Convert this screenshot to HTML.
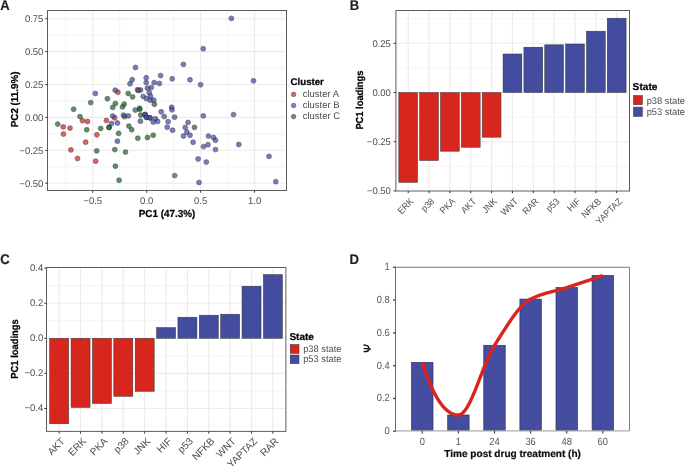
<!DOCTYPE html>
<html><head><meta charset="utf-8"><style>
html,body{margin:0;padding:0;background:#fff;}
body{width:685px;height:469px;overflow:hidden;}
svg{display:block;font-family:"Liberation Sans", sans-serif;will-change:transform;}
</style></head><body>
<svg width="685" height="469" viewBox="0 0 685 469" text-rendering="geometricPrecision">
<rect width="685" height="469" fill="#fff"/>
<line x1="65.77" y1="10.50" x2="65.77" y2="190.50" stroke="#EBEBEB" stroke-width="0.55"/>
<line x1="119.72" y1="10.50" x2="119.72" y2="190.50" stroke="#EBEBEB" stroke-width="0.55"/>
<line x1="173.67" y1="10.50" x2="173.67" y2="190.50" stroke="#EBEBEB" stroke-width="0.55"/>
<line x1="227.62" y1="10.50" x2="227.62" y2="190.50" stroke="#EBEBEB" stroke-width="0.55"/>
<line x1="281.57" y1="10.50" x2="281.57" y2="190.50" stroke="#EBEBEB" stroke-width="0.55"/>
<line x1="47.50" y1="35.15" x2="286.50" y2="35.15" stroke="#EBEBEB" stroke-width="0.55"/>
<line x1="47.50" y1="68.05" x2="286.50" y2="68.05" stroke="#EBEBEB" stroke-width="0.55"/>
<line x1="47.50" y1="100.95" x2="286.50" y2="100.95" stroke="#EBEBEB" stroke-width="0.55"/>
<line x1="47.50" y1="133.85" x2="286.50" y2="133.85" stroke="#EBEBEB" stroke-width="0.55"/>
<line x1="47.50" y1="166.75" x2="286.50" y2="166.75" stroke="#EBEBEB" stroke-width="0.55"/>
<line x1="92.75" y1="10.50" x2="92.75" y2="190.50" stroke="#EBEBEB" stroke-width="1.1"/>
<line x1="146.70" y1="10.50" x2="146.70" y2="190.50" stroke="#EBEBEB" stroke-width="1.1"/>
<line x1="200.65" y1="10.50" x2="200.65" y2="190.50" stroke="#EBEBEB" stroke-width="1.1"/>
<line x1="254.60" y1="10.50" x2="254.60" y2="190.50" stroke="#EBEBEB" stroke-width="1.1"/>
<line x1="47.50" y1="18.70" x2="286.50" y2="18.70" stroke="#EBEBEB" stroke-width="1.1"/>
<line x1="47.50" y1="51.60" x2="286.50" y2="51.60" stroke="#EBEBEB" stroke-width="1.1"/>
<line x1="47.50" y1="84.50" x2="286.50" y2="84.50" stroke="#EBEBEB" stroke-width="1.1"/>
<line x1="47.50" y1="117.40" x2="286.50" y2="117.40" stroke="#EBEBEB" stroke-width="1.1"/>
<line x1="47.50" y1="150.30" x2="286.50" y2="150.30" stroke="#EBEBEB" stroke-width="1.1"/>
<line x1="47.50" y1="183.20" x2="286.50" y2="183.20" stroke="#EBEBEB" stroke-width="1.1"/>
<circle cx="117.9" cy="92.2" r="2.45" fill="#DA2119" stroke="#1a1a1a" stroke-width="0.65" opacity="0.72"/>
<circle cx="137.6" cy="89.8" r="2.45" fill="#DA2119" stroke="#1a1a1a" stroke-width="0.65" opacity="0.72"/>
<circle cx="82.5" cy="120.8" r="2.45" fill="#DA2119" stroke="#1a1a1a" stroke-width="0.65" opacity="0.72"/>
<circle cx="87.5" cy="121.5" r="2.45" fill="#DA2119" stroke="#1a1a1a" stroke-width="0.65" opacity="0.72"/>
<circle cx="106.4" cy="120.5" r="2.45" fill="#DA2119" stroke="#1a1a1a" stroke-width="0.65" opacity="0.72"/>
<circle cx="114.7" cy="117.8" r="2.45" fill="#DA2119" stroke="#1a1a1a" stroke-width="0.65" opacity="0.72"/>
<circle cx="63.2" cy="126.9" r="2.45" fill="#DA2119" stroke="#1a1a1a" stroke-width="0.65" opacity="0.72"/>
<circle cx="70.0" cy="128.1" r="2.45" fill="#DA2119" stroke="#1a1a1a" stroke-width="0.65" opacity="0.72"/>
<circle cx="63.4" cy="134.1" r="2.45" fill="#DA2119" stroke="#1a1a1a" stroke-width="0.65" opacity="0.72"/>
<circle cx="96.9" cy="134.8" r="2.45" fill="#DA2119" stroke="#1a1a1a" stroke-width="0.65" opacity="0.72"/>
<circle cx="85.6" cy="142.2" r="2.45" fill="#DA2119" stroke="#1a1a1a" stroke-width="0.65" opacity="0.72"/>
<circle cx="70.9" cy="149.9" r="2.45" fill="#DA2119" stroke="#1a1a1a" stroke-width="0.65" opacity="0.72"/>
<circle cx="77.5" cy="158.5" r="2.45" fill="#DA2119" stroke="#1a1a1a" stroke-width="0.65" opacity="0.72"/>
<circle cx="95.7" cy="161.2" r="2.45" fill="#DA2119" stroke="#1a1a1a" stroke-width="0.65" opacity="0.72"/>
<circle cx="128.2" cy="93.5" r="2.45" fill="#1A6A2A" stroke="#1a1a1a" stroke-width="0.65" opacity="0.72"/>
<circle cx="107.4" cy="98.7" r="2.45" fill="#1A6A2A" stroke="#1a1a1a" stroke-width="0.65" opacity="0.72"/>
<circle cx="90.7" cy="102.6" r="2.45" fill="#1A6A2A" stroke="#1a1a1a" stroke-width="0.65" opacity="0.72"/>
<circle cx="115.4" cy="103.5" r="2.45" fill="#1A6A2A" stroke="#1a1a1a" stroke-width="0.65" opacity="0.72"/>
<circle cx="124.2" cy="104.1" r="2.45" fill="#1A6A2A" stroke="#1a1a1a" stroke-width="0.65" opacity="0.72"/>
<circle cx="122.5" cy="106.9" r="2.45" fill="#1A6A2A" stroke="#1a1a1a" stroke-width="0.65" opacity="0.72"/>
<circle cx="112.7" cy="107.4" r="2.45" fill="#1A6A2A" stroke="#1a1a1a" stroke-width="0.65" opacity="0.72"/>
<circle cx="73.6" cy="109.3" r="2.45" fill="#1A6A2A" stroke="#1a1a1a" stroke-width="0.65" opacity="0.72"/>
<circle cx="80.0" cy="116.6" r="2.45" fill="#1A6A2A" stroke="#1a1a1a" stroke-width="0.65" opacity="0.72"/>
<circle cx="124.5" cy="116.6" r="2.45" fill="#1A6A2A" stroke="#1a1a1a" stroke-width="0.65" opacity="0.72"/>
<circle cx="109.0" cy="127.3" r="2.45" fill="#1A6A2A" stroke="#1a1a1a" stroke-width="0.65" opacity="0.72"/>
<circle cx="57.7" cy="124.1" r="2.45" fill="#1A6A2A" stroke="#1a1a1a" stroke-width="0.65" opacity="0.72"/>
<circle cx="86.7" cy="129.8" r="2.45" fill="#1A6A2A" stroke="#1a1a1a" stroke-width="0.65" opacity="0.72"/>
<circle cx="100.7" cy="128.5" r="2.45" fill="#1A6A2A" stroke="#1a1a1a" stroke-width="0.65" opacity="0.72"/>
<circle cx="118.6" cy="133.4" r="2.45" fill="#1A6A2A" stroke="#1a1a1a" stroke-width="0.65" opacity="0.72"/>
<circle cx="128.9" cy="126.1" r="2.45" fill="#1A6A2A" stroke="#1a1a1a" stroke-width="0.65" opacity="0.72"/>
<circle cx="131.7" cy="129.7" r="2.45" fill="#1A6A2A" stroke="#1a1a1a" stroke-width="0.65" opacity="0.72"/>
<circle cx="132.6" cy="96.9" r="2.45" fill="#1A6A2A" stroke="#1a1a1a" stroke-width="0.65" opacity="0.72"/>
<circle cx="154.4" cy="104.3" r="2.45" fill="#1A6A2A" stroke="#1a1a1a" stroke-width="0.65" opacity="0.72"/>
<circle cx="139.6" cy="108.2" r="2.45" fill="#1A6A2A" stroke="#1a1a1a" stroke-width="0.65" opacity="0.72"/>
<circle cx="139.7" cy="109.6" r="2.45" fill="#1A6A2A" stroke="#1a1a1a" stroke-width="0.65" opacity="0.72"/>
<circle cx="140.8" cy="115.1" r="2.45" fill="#1A6A2A" stroke="#1a1a1a" stroke-width="0.65" opacity="0.72"/>
<circle cx="153.2" cy="135.3" r="2.45" fill="#1A6A2A" stroke="#1a1a1a" stroke-width="0.65" opacity="0.72"/>
<circle cx="147.5" cy="137.5" r="2.45" fill="#1A6A2A" stroke="#1a1a1a" stroke-width="0.65" opacity="0.72"/>
<circle cx="137.8" cy="138.2" r="2.45" fill="#1A6A2A" stroke="#1a1a1a" stroke-width="0.65" opacity="0.72"/>
<circle cx="194.5" cy="127.4" r="2.45" fill="#1A6A2A" stroke="#1a1a1a" stroke-width="0.65" opacity="0.72"/>
<circle cx="96.7" cy="150.9" r="2.45" fill="#1A6A2A" stroke="#1a1a1a" stroke-width="0.65" opacity="0.72"/>
<circle cx="114.8" cy="149.6" r="2.45" fill="#1A6A2A" stroke="#1a1a1a" stroke-width="0.65" opacity="0.72"/>
<circle cx="125.5" cy="152.1" r="2.45" fill="#1A6A2A" stroke="#1a1a1a" stroke-width="0.65" opacity="0.72"/>
<circle cx="115.4" cy="166.2" r="2.45" fill="#1A6A2A" stroke="#1a1a1a" stroke-width="0.65" opacity="0.72"/>
<circle cx="119.1" cy="180.2" r="2.45" fill="#1A6A2A" stroke="#1a1a1a" stroke-width="0.65" opacity="0.72"/>
<circle cx="109.2" cy="127.5" r="2.45" fill="#1A6A2A" stroke="#1a1a1a" stroke-width="0.65" opacity="0.72"/>
<circle cx="231.4" cy="18.4" r="2.45" fill="#424CB0" stroke="#1a1a1a" stroke-width="0.65" opacity="0.72"/>
<circle cx="203.2" cy="48.8" r="2.45" fill="#424CB0" stroke="#1a1a1a" stroke-width="0.65" opacity="0.72"/>
<circle cx="183.4" cy="64.4" r="2.45" fill="#424CB0" stroke="#1a1a1a" stroke-width="0.65" opacity="0.72"/>
<circle cx="135.5" cy="67.5" r="2.45" fill="#424CB0" stroke="#1a1a1a" stroke-width="0.65" opacity="0.72"/>
<circle cx="160.6" cy="75.6" r="2.45" fill="#424CB0" stroke="#1a1a1a" stroke-width="0.65" opacity="0.72"/>
<circle cx="172.2" cy="78.8" r="2.45" fill="#424CB0" stroke="#1a1a1a" stroke-width="0.65" opacity="0.72"/>
<circle cx="190.0" cy="79.8" r="2.45" fill="#424CB0" stroke="#1a1a1a" stroke-width="0.65" opacity="0.72"/>
<circle cx="253.5" cy="80.8" r="2.45" fill="#424CB0" stroke="#1a1a1a" stroke-width="0.65" opacity="0.72"/>
<circle cx="200.6" cy="84.7" r="2.45" fill="#424CB0" stroke="#1a1a1a" stroke-width="0.65" opacity="0.72"/>
<circle cx="132.2" cy="79.7" r="2.45" fill="#424CB0" stroke="#1a1a1a" stroke-width="0.65" opacity="0.72"/>
<circle cx="130.0" cy="83.8" r="2.45" fill="#424CB0" stroke="#1a1a1a" stroke-width="0.65" opacity="0.72"/>
<circle cx="146.2" cy="77.8" r="2.45" fill="#424CB0" stroke="#1a1a1a" stroke-width="0.65" opacity="0.72"/>
<circle cx="146.2" cy="82.6" r="2.45" fill="#424CB0" stroke="#1a1a1a" stroke-width="0.65" opacity="0.72"/>
<circle cx="154.2" cy="82.6" r="2.45" fill="#424CB0" stroke="#1a1a1a" stroke-width="0.65" opacity="0.72"/>
<circle cx="159.4" cy="83.5" r="2.45" fill="#424CB0" stroke="#1a1a1a" stroke-width="0.65" opacity="0.72"/>
<circle cx="151.3" cy="87.6" r="2.45" fill="#424CB0" stroke="#1a1a1a" stroke-width="0.65" opacity="0.72"/>
<circle cx="147.4" cy="88.2" r="2.45" fill="#424CB0" stroke="#1a1a1a" stroke-width="0.65" opacity="0.72"/>
<circle cx="95.4" cy="93.5" r="2.45" fill="#424CB0" stroke="#1a1a1a" stroke-width="0.65" opacity="0.72"/>
<circle cx="115.2" cy="90.2" r="2.45" fill="#424CB0" stroke="#1a1a1a" stroke-width="0.65" opacity="0.72"/>
<circle cx="140.6" cy="90.0" r="2.45" fill="#424CB0" stroke="#1a1a1a" stroke-width="0.65" opacity="0.72"/>
<circle cx="149.3" cy="92.7" r="2.45" fill="#424CB0" stroke="#1a1a1a" stroke-width="0.65" opacity="0.72"/>
<circle cx="143.2" cy="96.4" r="2.45" fill="#424CB0" stroke="#1a1a1a" stroke-width="0.65" opacity="0.72"/>
<circle cx="150.5" cy="96.1" r="2.45" fill="#424CB0" stroke="#1a1a1a" stroke-width="0.65" opacity="0.72"/>
<circle cx="146.4" cy="98.6" r="2.45" fill="#424CB0" stroke="#1a1a1a" stroke-width="0.65" opacity="0.72"/>
<circle cx="150.3" cy="100.3" r="2.45" fill="#424CB0" stroke="#1a1a1a" stroke-width="0.65" opacity="0.72"/>
<circle cx="153.8" cy="100.1" r="2.45" fill="#424CB0" stroke="#1a1a1a" stroke-width="0.65" opacity="0.72"/>
<circle cx="135.2" cy="110.1" r="2.45" fill="#424CB0" stroke="#1a1a1a" stroke-width="0.65" opacity="0.72"/>
<circle cx="171.7" cy="107.3" r="2.45" fill="#424CB0" stroke="#1a1a1a" stroke-width="0.65" opacity="0.72"/>
<circle cx="172.0" cy="109.8" r="2.45" fill="#424CB0" stroke="#1a1a1a" stroke-width="0.65" opacity="0.72"/>
<circle cx="161.2" cy="111.8" r="2.45" fill="#424CB0" stroke="#1a1a1a" stroke-width="0.65" opacity="0.72"/>
<circle cx="164.2" cy="116.6" r="2.45" fill="#424CB0" stroke="#1a1a1a" stroke-width="0.65" opacity="0.72"/>
<circle cx="174.6" cy="117.2" r="2.45" fill="#424CB0" stroke="#1a1a1a" stroke-width="0.65" opacity="0.72"/>
<circle cx="203.3" cy="115.9" r="2.45" fill="#424CB0" stroke="#1a1a1a" stroke-width="0.65" opacity="0.72"/>
<circle cx="233.5" cy="114.6" r="2.45" fill="#424CB0" stroke="#1a1a1a" stroke-width="0.65" opacity="0.72"/>
<circle cx="145.0" cy="114.5" r="2.45" fill="#424CB0" stroke="#1a1a1a" stroke-width="0.65" opacity="0.72"/>
<circle cx="146.3" cy="117.2" r="2.45" fill="#424CB0" stroke="#1a1a1a" stroke-width="0.65" opacity="0.72"/>
<circle cx="149.9" cy="117.8" r="2.45" fill="#424CB0" stroke="#1a1a1a" stroke-width="0.65" opacity="0.72"/>
<circle cx="155.4" cy="118.8" r="2.45" fill="#424CB0" stroke="#1a1a1a" stroke-width="0.65" opacity="0.72"/>
<circle cx="153.2" cy="122.1" r="2.45" fill="#424CB0" stroke="#1a1a1a" stroke-width="0.65" opacity="0.72"/>
<circle cx="157.6" cy="121.5" r="2.45" fill="#424CB0" stroke="#1a1a1a" stroke-width="0.65" opacity="0.72"/>
<circle cx="128.4" cy="115.9" r="2.45" fill="#424CB0" stroke="#1a1a1a" stroke-width="0.65" opacity="0.72"/>
<circle cx="123.5" cy="115.1" r="2.45" fill="#424CB0" stroke="#1a1a1a" stroke-width="0.65" opacity="0.72"/>
<circle cx="112.7" cy="116.0" r="2.45" fill="#424CB0" stroke="#1a1a1a" stroke-width="0.65" opacity="0.72"/>
<circle cx="111.5" cy="123.5" r="2.45" fill="#424CB0" stroke="#1a1a1a" stroke-width="0.65" opacity="0.72"/>
<circle cx="117.4" cy="123.0" r="2.45" fill="#424CB0" stroke="#1a1a1a" stroke-width="0.65" opacity="0.72"/>
<circle cx="140.4" cy="121.2" r="2.45" fill="#424CB0" stroke="#1a1a1a" stroke-width="0.65" opacity="0.72"/>
<circle cx="168.1" cy="121.7" r="2.45" fill="#424CB0" stroke="#1a1a1a" stroke-width="0.65" opacity="0.72"/>
<circle cx="188.1" cy="122.4" r="2.45" fill="#424CB0" stroke="#1a1a1a" stroke-width="0.65" opacity="0.72"/>
<circle cx="167.2" cy="127.3" r="2.45" fill="#424CB0" stroke="#1a1a1a" stroke-width="0.65" opacity="0.72"/>
<circle cx="172.6" cy="130.2" r="2.45" fill="#424CB0" stroke="#1a1a1a" stroke-width="0.65" opacity="0.72"/>
<circle cx="185.3" cy="127.5" r="2.45" fill="#424CB0" stroke="#1a1a1a" stroke-width="0.65" opacity="0.72"/>
<circle cx="186.9" cy="132.1" r="2.45" fill="#424CB0" stroke="#1a1a1a" stroke-width="0.65" opacity="0.72"/>
<circle cx="183.5" cy="136.0" r="2.45" fill="#424CB0" stroke="#1a1a1a" stroke-width="0.65" opacity="0.72"/>
<circle cx="190.0" cy="135.3" r="2.45" fill="#424CB0" stroke="#1a1a1a" stroke-width="0.65" opacity="0.72"/>
<circle cx="193.1" cy="142.3" r="2.45" fill="#424CB0" stroke="#1a1a1a" stroke-width="0.65" opacity="0.72"/>
<circle cx="208.4" cy="136.1" r="2.45" fill="#424CB0" stroke="#1a1a1a" stroke-width="0.65" opacity="0.72"/>
<circle cx="213.5" cy="137.5" r="2.45" fill="#424CB0" stroke="#1a1a1a" stroke-width="0.65" opacity="0.72"/>
<circle cx="215.5" cy="140.3" r="2.45" fill="#424CB0" stroke="#1a1a1a" stroke-width="0.65" opacity="0.72"/>
<circle cx="203.5" cy="146.6" r="2.45" fill="#424CB0" stroke="#1a1a1a" stroke-width="0.65" opacity="0.72"/>
<circle cx="208.0" cy="144.7" r="2.45" fill="#424CB0" stroke="#1a1a1a" stroke-width="0.65" opacity="0.72"/>
<circle cx="215.5" cy="149.6" r="2.45" fill="#424CB0" stroke="#1a1a1a" stroke-width="0.65" opacity="0.72"/>
<circle cx="238.8" cy="144.5" r="2.45" fill="#424CB0" stroke="#1a1a1a" stroke-width="0.65" opacity="0.72"/>
<circle cx="269.0" cy="156.4" r="2.45" fill="#424CB0" stroke="#1a1a1a" stroke-width="0.65" opacity="0.72"/>
<circle cx="198.1" cy="159.0" r="2.45" fill="#424CB0" stroke="#1a1a1a" stroke-width="0.65" opacity="0.72"/>
<circle cx="206.3" cy="162.1" r="2.45" fill="#424CB0" stroke="#1a1a1a" stroke-width="0.65" opacity="0.72"/>
<circle cx="174.7" cy="175.6" r="2.45" fill="#424CB0" stroke="#1a1a1a" stroke-width="0.65" opacity="0.72"/>
<circle cx="199.0" cy="182.5" r="2.45" fill="#424CB0" stroke="#1a1a1a" stroke-width="0.65" opacity="0.72"/>
<circle cx="275.8" cy="181.7" r="2.45" fill="#424CB0" stroke="#1a1a1a" stroke-width="0.65" opacity="0.72"/>
<circle cx="117.4" cy="141.2" r="2.45" fill="#424CB0" stroke="#1a1a1a" stroke-width="0.65" opacity="0.72"/>
<circle cx="138.4" cy="90.6" r="2.45" fill="#424CB0" stroke="#1a1a1a" stroke-width="0.65" opacity="0.72"/>
<circle cx="145.2" cy="114.6" r="2.45" fill="#424CB0" stroke="#1a1a1a" stroke-width="0.65" opacity="0.72"/>
<circle cx="146.5" cy="117.3" r="2.45" fill="#424CB0" stroke="#1a1a1a" stroke-width="0.65" opacity="0.72"/>
<circle cx="150.0" cy="117.9" r="2.45" fill="#424CB0" stroke="#1a1a1a" stroke-width="0.65" opacity="0.72"/>
<rect x="47.50" y="10.50" width="239.00" height="180.00" fill="none" stroke="#5E5E5E" stroke-width="1.0"/>
<line x1="45.30" y1="18.70" x2="47.50" y2="18.70" stroke="#333" stroke-width="1.0"/>
<text x="43.40" y="22.00" font-size="9.7" fill="#4D4D4D" text-anchor="end" font-weight="normal" textLength="18.50" lengthAdjust="spacingAndGlyphs">0.75</text>
<line x1="45.30" y1="51.60" x2="47.50" y2="51.60" stroke="#333" stroke-width="1.0"/>
<text x="43.40" y="54.90" font-size="9.7" fill="#4D4D4D" text-anchor="end" font-weight="normal" textLength="18.50" lengthAdjust="spacingAndGlyphs">0.50</text>
<line x1="45.30" y1="84.50" x2="47.50" y2="84.50" stroke="#333" stroke-width="1.0"/>
<text x="43.40" y="87.80" font-size="9.7" fill="#4D4D4D" text-anchor="end" font-weight="normal" textLength="18.50" lengthAdjust="spacingAndGlyphs">0.25</text>
<line x1="45.30" y1="117.40" x2="47.50" y2="117.40" stroke="#333" stroke-width="1.0"/>
<text x="43.40" y="120.70" font-size="9.7" fill="#4D4D4D" text-anchor="end" font-weight="normal" textLength="18.50" lengthAdjust="spacingAndGlyphs">0.00</text>
<line x1="45.30" y1="150.30" x2="47.50" y2="150.30" stroke="#333" stroke-width="1.0"/>
<text x="43.40" y="153.60" font-size="9.7" fill="#4D4D4D" text-anchor="end" font-weight="normal" textLength="24.05" lengthAdjust="spacingAndGlyphs">−0.25</text>
<line x1="45.30" y1="183.20" x2="47.50" y2="183.20" stroke="#333" stroke-width="1.0"/>
<text x="43.40" y="186.50" font-size="9.7" fill="#4D4D4D" text-anchor="end" font-weight="normal" textLength="24.05" lengthAdjust="spacingAndGlyphs">−0.50</text>
<line x1="92.75" y1="190.50" x2="92.75" y2="192.70" stroke="#333" stroke-width="1.0"/>
<text x="92.75" y="204.20" font-size="9.7" fill="#4D4D4D" text-anchor="middle" font-weight="normal" textLength="18.77" lengthAdjust="spacingAndGlyphs">−0.5</text>
<line x1="146.70" y1="190.50" x2="146.70" y2="192.70" stroke="#333" stroke-width="1.0"/>
<text x="146.70" y="204.20" font-size="9.7" fill="#4D4D4D" text-anchor="middle" font-weight="normal" textLength="13.21" lengthAdjust="spacingAndGlyphs">0.0</text>
<line x1="200.65" y1="190.50" x2="200.65" y2="192.70" stroke="#333" stroke-width="1.0"/>
<text x="200.65" y="204.20" font-size="9.7" fill="#4D4D4D" text-anchor="middle" font-weight="normal" textLength="13.21" lengthAdjust="spacingAndGlyphs">0.5</text>
<line x1="254.60" y1="190.50" x2="254.60" y2="192.70" stroke="#333" stroke-width="1.0"/>
<text x="254.60" y="204.20" font-size="9.7" fill="#4D4D4D" text-anchor="middle" font-weight="normal" textLength="13.21" lengthAdjust="spacingAndGlyphs">1.0</text>
<text x="167.00" y="216.90" font-size="10.2" fill="#000" text-anchor="middle" font-weight="bold" textLength="56.50" lengthAdjust="spacingAndGlyphs" stroke="#000" stroke-width="0.22">PC1 (47.3%)</text>
<text transform="translate(18.20,99.40) rotate(-90)" font-size="10.1" fill="#000" text-anchor="middle" font-weight="bold" textLength="55.80" lengthAdjust="spacingAndGlyphs" stroke="#000" stroke-width="0.22">PC2 (11.9%)</text>
<text x="290.60" y="84.80" font-size="9.7" fill="#000" text-anchor="start" font-weight="bold" textLength="33.30" lengthAdjust="spacingAndGlyphs" stroke="#000" stroke-width="0.22">Cluster</text>
<circle cx="293.6" cy="94.4" r="2.3" fill="#DA2119" stroke="#000" stroke-width="0.6" opacity="0.68"/>
<text x="302.70" y="96.90" font-size="9.6" fill="#4D4D4D" text-anchor="start" font-weight="normal" textLength="36.26" lengthAdjust="spacingAndGlyphs">cluster A</text>
<circle cx="293.6" cy="105.5" r="2.3" fill="#424CB0" stroke="#000" stroke-width="0.6" opacity="0.68"/>
<text x="302.70" y="108.00" font-size="9.6" fill="#4D4D4D" text-anchor="start" font-weight="normal" textLength="36.79" lengthAdjust="spacingAndGlyphs">cluster B</text>
<circle cx="293.6" cy="116.6" r="2.3" fill="#1A6A2A" stroke="#000" stroke-width="0.6" opacity="0.68"/>
<text x="302.70" y="119.10" font-size="9.6" fill="#4D4D4D" text-anchor="start" font-weight="normal" textLength="37.31" lengthAdjust="spacingAndGlyphs">cluster C</text>
<line x1="395.90" y1="18.70" x2="629.50" y2="18.70" stroke="#EBEBEB" stroke-width="0.55"/>
<line x1="395.90" y1="67.90" x2="629.50" y2="67.90" stroke="#EBEBEB" stroke-width="0.55"/>
<line x1="395.90" y1="117.10" x2="629.50" y2="117.10" stroke="#EBEBEB" stroke-width="0.55"/>
<line x1="395.90" y1="166.30" x2="629.50" y2="166.30" stroke="#EBEBEB" stroke-width="0.55"/>
<line x1="395.90" y1="43.30" x2="629.50" y2="43.30" stroke="#EBEBEB" stroke-width="1.1"/>
<line x1="395.90" y1="92.50" x2="629.50" y2="92.50" stroke="#EBEBEB" stroke-width="1.1"/>
<line x1="395.90" y1="141.70" x2="629.50" y2="141.70" stroke="#EBEBEB" stroke-width="1.1"/>
<line x1="408.20" y1="10.50" x2="408.20" y2="191.00" stroke="#EBEBEB" stroke-width="1.1"/>
<line x1="429.05" y1="10.50" x2="429.05" y2="191.00" stroke="#EBEBEB" stroke-width="1.1"/>
<line x1="449.90" y1="10.50" x2="449.90" y2="191.00" stroke="#EBEBEB" stroke-width="1.1"/>
<line x1="470.75" y1="10.50" x2="470.75" y2="191.00" stroke="#EBEBEB" stroke-width="1.1"/>
<line x1="491.60" y1="10.50" x2="491.60" y2="191.00" stroke="#EBEBEB" stroke-width="1.1"/>
<line x1="512.45" y1="10.50" x2="512.45" y2="191.00" stroke="#EBEBEB" stroke-width="1.1"/>
<line x1="533.30" y1="10.50" x2="533.30" y2="191.00" stroke="#EBEBEB" stroke-width="1.1"/>
<line x1="554.15" y1="10.50" x2="554.15" y2="191.00" stroke="#EBEBEB" stroke-width="1.1"/>
<line x1="575.00" y1="10.50" x2="575.00" y2="191.00" stroke="#EBEBEB" stroke-width="1.1"/>
<line x1="595.85" y1="10.50" x2="595.85" y2="191.00" stroke="#EBEBEB" stroke-width="1.1"/>
<line x1="616.70" y1="10.50" x2="616.70" y2="191.00" stroke="#EBEBEB" stroke-width="1.1"/>
<rect x="398.80" y="92.50" width="18.80" height="89.90" fill="#D7261E" stroke="#333" stroke-width="0.5"/>
<rect x="419.65" y="92.50" width="18.80" height="68.00" fill="#D7261E" stroke="#333" stroke-width="0.5"/>
<rect x="440.50" y="92.50" width="18.80" height="58.70" fill="#D7261E" stroke="#333" stroke-width="0.5"/>
<rect x="461.35" y="92.50" width="18.80" height="54.80" fill="#D7261E" stroke="#333" stroke-width="0.5"/>
<rect x="482.20" y="92.50" width="18.80" height="44.70" fill="#D7261E" stroke="#333" stroke-width="0.5"/>
<rect x="503.05" y="54.00" width="18.80" height="38.50" fill="#434C9E" stroke="#333" stroke-width="0.5"/>
<rect x="523.90" y="47.20" width="18.80" height="45.30" fill="#434C9E" stroke="#333" stroke-width="0.5"/>
<rect x="544.75" y="44.80" width="18.80" height="47.70" fill="#434C9E" stroke="#333" stroke-width="0.5"/>
<rect x="565.60" y="44.00" width="18.80" height="48.50" fill="#434C9E" stroke="#333" stroke-width="0.5"/>
<rect x="586.45" y="31.20" width="18.80" height="61.30" fill="#434C9E" stroke="#333" stroke-width="0.5"/>
<rect x="607.30" y="18.20" width="18.80" height="74.30" fill="#434C9E" stroke="#333" stroke-width="0.5"/>
<rect x="395.90" y="10.50" width="233.60" height="180.50" fill="none" stroke="#5E5E5E" stroke-width="1.0"/>
<line x1="393.70" y1="43.30" x2="395.90" y2="43.30" stroke="#333" stroke-width="1.0"/>
<text x="390.90" y="46.60" font-size="9.7" fill="#4D4D4D" text-anchor="end" font-weight="normal" textLength="18.50" lengthAdjust="spacingAndGlyphs">0.25</text>
<line x1="393.70" y1="92.50" x2="395.90" y2="92.50" stroke="#333" stroke-width="1.0"/>
<text x="390.90" y="95.80" font-size="9.7" fill="#4D4D4D" text-anchor="end" font-weight="normal" textLength="18.50" lengthAdjust="spacingAndGlyphs">0.00</text>
<line x1="393.70" y1="141.70" x2="395.90" y2="141.70" stroke="#333" stroke-width="1.0"/>
<text x="390.90" y="145.00" font-size="9.7" fill="#4D4D4D" text-anchor="end" font-weight="normal" textLength="24.05" lengthAdjust="spacingAndGlyphs">−0.25</text>
<line x1="393.70" y1="190.90" x2="395.90" y2="190.90" stroke="#333" stroke-width="1.0"/>
<text x="390.90" y="194.20" font-size="9.7" fill="#4D4D4D" text-anchor="end" font-weight="normal" textLength="24.05" lengthAdjust="spacingAndGlyphs">−0.50</text>
<line x1="408.20" y1="191.00" x2="408.20" y2="193.20" stroke="#333" stroke-width="1.0"/>
<text transform="translate(414.20,202.00) rotate(-45)" font-size="9.4" fill="#4D4D4D" text-anchor="end" font-weight="normal" textLength="17.98" lengthAdjust="spacingAndGlyphs">ERK</text>
<line x1="429.05" y1="191.00" x2="429.05" y2="193.20" stroke="#333" stroke-width="1.0"/>
<text transform="translate(435.05,202.00) rotate(-45)" font-size="9.4" fill="#4D4D4D" text-anchor="end" font-weight="normal" textLength="14.59" lengthAdjust="spacingAndGlyphs">p38</text>
<line x1="449.90" y1="191.00" x2="449.90" y2="193.20" stroke="#333" stroke-width="1.0"/>
<text transform="translate(455.90,202.00) rotate(-45)" font-size="9.4" fill="#4D4D4D" text-anchor="end" font-weight="normal" textLength="17.49" lengthAdjust="spacingAndGlyphs">PKA</text>
<line x1="470.75" y1="191.00" x2="470.75" y2="193.20" stroke="#333" stroke-width="1.0"/>
<text transform="translate(476.75,202.00) rotate(-45)" font-size="9.4" fill="#4D4D4D" text-anchor="end" font-weight="normal" textLength="17.00" lengthAdjust="spacingAndGlyphs">AKT</text>
<line x1="491.60" y1="191.00" x2="491.60" y2="193.20" stroke="#333" stroke-width="1.0"/>
<text transform="translate(497.60,202.00) rotate(-45)" font-size="9.4" fill="#4D4D4D" text-anchor="end" font-weight="normal" textLength="16.52" lengthAdjust="spacingAndGlyphs">JNK</text>
<line x1="512.45" y1="191.00" x2="512.45" y2="193.20" stroke="#333" stroke-width="1.0"/>
<text transform="translate(518.45,202.00) rotate(-45)" font-size="9.4" fill="#4D4D4D" text-anchor="end" font-weight="normal" textLength="19.90" lengthAdjust="spacingAndGlyphs">WNT</text>
<line x1="533.30" y1="191.00" x2="533.30" y2="193.20" stroke="#333" stroke-width="1.0"/>
<text transform="translate(539.30,202.00) rotate(-45)" font-size="9.4" fill="#4D4D4D" text-anchor="end" font-weight="normal" textLength="18.46" lengthAdjust="spacingAndGlyphs">RAR</text>
<line x1="554.15" y1="191.00" x2="554.15" y2="193.20" stroke="#333" stroke-width="1.0"/>
<text transform="translate(560.15,202.00) rotate(-45)" font-size="9.4" fill="#4D4D4D" text-anchor="end" font-weight="normal" textLength="14.59" lengthAdjust="spacingAndGlyphs">p53</text>
<line x1="575.00" y1="191.00" x2="575.00" y2="193.20" stroke="#333" stroke-width="1.0"/>
<text transform="translate(581.00,202.00) rotate(-45)" font-size="9.4" fill="#4D4D4D" text-anchor="end" font-weight="normal" textLength="14.08" lengthAdjust="spacingAndGlyphs">HIF</text>
<line x1="595.85" y1="191.00" x2="595.85" y2="193.20" stroke="#333" stroke-width="1.0"/>
<text transform="translate(601.85,202.00) rotate(-45)" font-size="9.4" fill="#4D4D4D" text-anchor="end" font-weight="normal" textLength="23.32" lengthAdjust="spacingAndGlyphs">NFKB</text>
<line x1="616.70" y1="191.00" x2="616.70" y2="193.20" stroke="#333" stroke-width="1.0"/>
<text transform="translate(622.70,202.00) rotate(-45)" font-size="9.4" fill="#4D4D4D" text-anchor="end" font-weight="normal" textLength="32.71" lengthAdjust="spacingAndGlyphs">YAPTAZ</text>
<text transform="translate(363.20,100.10) rotate(-90)" font-size="10.2" fill="#000" text-anchor="middle" font-weight="bold" textLength="59.00" lengthAdjust="spacingAndGlyphs" stroke="#000" stroke-width="0.22">PC1 loadings</text>
<text x="632.60" y="90.10" font-size="10" fill="#000" text-anchor="start" font-weight="bold" textLength="24.90" lengthAdjust="spacingAndGlyphs" stroke="#000" stroke-width="0.22">State</text>
<rect x="633.40" y="95.50" width="9.00" height="9.20" fill="#D7261E" stroke="#333" stroke-width="0.5"/>
<rect x="633.40" y="107.10" width="9.00" height="9.40" fill="#434C9E" stroke="#333" stroke-width="0.5"/>
<text x="646.70" y="103.80" font-size="9.6" fill="#4D4D4D" text-anchor="start" font-weight="normal" textLength="38.31" lengthAdjust="spacingAndGlyphs">p38 state</text>
<text x="646.70" y="114.70" font-size="9.6" fill="#4D4D4D" text-anchor="start" font-weight="normal" textLength="38.31" lengthAdjust="spacingAndGlyphs">p53 state</text>
<line x1="46.50" y1="285.65" x2="285.90" y2="285.65" stroke="#EBEBEB" stroke-width="0.55"/>
<line x1="46.50" y1="320.75" x2="285.90" y2="320.75" stroke="#EBEBEB" stroke-width="0.55"/>
<line x1="46.50" y1="355.85" x2="285.90" y2="355.85" stroke="#EBEBEB" stroke-width="0.55"/>
<line x1="46.50" y1="390.95" x2="285.90" y2="390.95" stroke="#EBEBEB" stroke-width="0.55"/>
<line x1="46.50" y1="426.05" x2="285.90" y2="426.05" stroke="#EBEBEB" stroke-width="0.55"/>
<line x1="46.50" y1="303.20" x2="285.90" y2="303.20" stroke="#EBEBEB" stroke-width="1.1"/>
<line x1="46.50" y1="338.30" x2="285.90" y2="338.30" stroke="#EBEBEB" stroke-width="1.1"/>
<line x1="46.50" y1="373.40" x2="285.90" y2="373.40" stroke="#EBEBEB" stroke-width="1.1"/>
<line x1="46.50" y1="408.50" x2="285.90" y2="408.50" stroke="#EBEBEB" stroke-width="1.1"/>
<line x1="59.20" y1="267.50" x2="59.20" y2="431.40" stroke="#EBEBEB" stroke-width="1.1"/>
<line x1="80.57" y1="267.50" x2="80.57" y2="431.40" stroke="#EBEBEB" stroke-width="1.1"/>
<line x1="101.94" y1="267.50" x2="101.94" y2="431.40" stroke="#EBEBEB" stroke-width="1.1"/>
<line x1="123.31" y1="267.50" x2="123.31" y2="431.40" stroke="#EBEBEB" stroke-width="1.1"/>
<line x1="144.68" y1="267.50" x2="144.68" y2="431.40" stroke="#EBEBEB" stroke-width="1.1"/>
<line x1="166.05" y1="267.50" x2="166.05" y2="431.40" stroke="#EBEBEB" stroke-width="1.1"/>
<line x1="187.42" y1="267.50" x2="187.42" y2="431.40" stroke="#EBEBEB" stroke-width="1.1"/>
<line x1="208.79" y1="267.50" x2="208.79" y2="431.40" stroke="#EBEBEB" stroke-width="1.1"/>
<line x1="230.16" y1="267.50" x2="230.16" y2="431.40" stroke="#EBEBEB" stroke-width="1.1"/>
<line x1="251.53" y1="267.50" x2="251.53" y2="431.40" stroke="#EBEBEB" stroke-width="1.1"/>
<line x1="272.90" y1="267.50" x2="272.90" y2="431.40" stroke="#EBEBEB" stroke-width="1.1"/>
<rect x="49.70" y="338.30" width="19.00" height="85.50" fill="#D7261E" stroke="#333" stroke-width="0.5"/>
<rect x="71.07" y="338.30" width="19.00" height="69.10" fill="#D7261E" stroke="#333" stroke-width="0.5"/>
<rect x="92.44" y="338.30" width="19.00" height="65.20" fill="#D7261E" stroke="#333" stroke-width="0.5"/>
<rect x="113.81" y="338.30" width="19.00" height="58.00" fill="#D7261E" stroke="#333" stroke-width="0.5"/>
<rect x="135.18" y="338.30" width="19.00" height="53.00" fill="#D7261E" stroke="#333" stroke-width="0.5"/>
<rect x="156.55" y="327.60" width="19.00" height="10.70" fill="#434C9E" stroke="#333" stroke-width="0.5"/>
<rect x="177.92" y="317.20" width="19.00" height="21.10" fill="#434C9E" stroke="#333" stroke-width="0.5"/>
<rect x="199.29" y="315.20" width="19.00" height="23.10" fill="#434C9E" stroke="#333" stroke-width="0.5"/>
<rect x="220.66" y="314.20" width="19.00" height="24.10" fill="#434C9E" stroke="#333" stroke-width="0.5"/>
<rect x="242.03" y="286.20" width="19.00" height="52.10" fill="#434C9E" stroke="#333" stroke-width="0.5"/>
<rect x="263.40" y="274.60" width="19.00" height="63.70" fill="#434C9E" stroke="#333" stroke-width="0.5"/>
<rect x="46.50" y="267.50" width="239.40" height="163.90" fill="none" stroke="#5E5E5E" stroke-width="1.0"/>
<line x1="44.30" y1="268.10" x2="46.50" y2="268.10" stroke="#333" stroke-width="1.0"/>
<text x="43.30" y="270.55" font-size="9.7" fill="#4D4D4D" text-anchor="end" font-weight="normal" textLength="13.21" lengthAdjust="spacingAndGlyphs">0.4</text>
<line x1="44.30" y1="303.20" x2="46.50" y2="303.20" stroke="#333" stroke-width="1.0"/>
<text x="43.30" y="305.65" font-size="9.7" fill="#4D4D4D" text-anchor="end" font-weight="normal" textLength="13.21" lengthAdjust="spacingAndGlyphs">0.2</text>
<line x1="44.30" y1="338.30" x2="46.50" y2="338.30" stroke="#333" stroke-width="1.0"/>
<text x="43.30" y="340.75" font-size="9.7" fill="#4D4D4D" text-anchor="end" font-weight="normal" textLength="13.21" lengthAdjust="spacingAndGlyphs">0.0</text>
<line x1="44.30" y1="373.40" x2="46.50" y2="373.40" stroke="#333" stroke-width="1.0"/>
<text x="43.30" y="375.85" font-size="9.7" fill="#4D4D4D" text-anchor="end" font-weight="normal" textLength="18.77" lengthAdjust="spacingAndGlyphs">−0.2</text>
<line x1="44.30" y1="408.50" x2="46.50" y2="408.50" stroke="#333" stroke-width="1.0"/>
<text x="43.30" y="410.95" font-size="9.7" fill="#4D4D4D" text-anchor="end" font-weight="normal" textLength="18.77" lengthAdjust="spacingAndGlyphs">−0.4</text>
<line x1="59.20" y1="431.40" x2="59.20" y2="433.60" stroke="#333" stroke-width="1.0"/>
<text transform="translate(65.40,441.90) rotate(-45)" font-size="10" fill="#4D4D4D" text-anchor="end">AKT</text>
<line x1="80.57" y1="431.40" x2="80.57" y2="433.60" stroke="#333" stroke-width="1.0"/>
<text transform="translate(86.77,441.90) rotate(-45)" font-size="10" fill="#4D4D4D" text-anchor="end">ERK</text>
<line x1="101.94" y1="431.40" x2="101.94" y2="433.60" stroke="#333" stroke-width="1.0"/>
<text transform="translate(108.14,441.90) rotate(-45)" font-size="10" fill="#4D4D4D" text-anchor="end">PKA</text>
<line x1="123.31" y1="431.40" x2="123.31" y2="433.60" stroke="#333" stroke-width="1.0"/>
<text transform="translate(129.51,441.90) rotate(-45)" font-size="10" fill="#4D4D4D" text-anchor="end">p38</text>
<line x1="144.68" y1="431.40" x2="144.68" y2="433.60" stroke="#333" stroke-width="1.0"/>
<text transform="translate(150.88,441.90) rotate(-45)" font-size="10" fill="#4D4D4D" text-anchor="end">JNK</text>
<line x1="166.05" y1="431.40" x2="166.05" y2="433.60" stroke="#333" stroke-width="1.0"/>
<text transform="translate(172.25,441.90) rotate(-45)" font-size="10" fill="#4D4D4D" text-anchor="end">HIF</text>
<line x1="187.42" y1="431.40" x2="187.42" y2="433.60" stroke="#333" stroke-width="1.0"/>
<text transform="translate(193.62,441.90) rotate(-45)" font-size="10" fill="#4D4D4D" text-anchor="end">p53</text>
<line x1="208.79" y1="431.40" x2="208.79" y2="433.60" stroke="#333" stroke-width="1.0"/>
<text transform="translate(214.99,441.90) rotate(-45)" font-size="10" fill="#4D4D4D" text-anchor="end">NFKB</text>
<line x1="230.16" y1="431.40" x2="230.16" y2="433.60" stroke="#333" stroke-width="1.0"/>
<text transform="translate(236.36,441.90) rotate(-45)" font-size="10" fill="#4D4D4D" text-anchor="end">WNT</text>
<line x1="251.53" y1="431.40" x2="251.53" y2="433.60" stroke="#333" stroke-width="1.0"/>
<text transform="translate(257.73,441.90) rotate(-45)" font-size="10" fill="#4D4D4D" text-anchor="end">YAPTAZ</text>
<line x1="272.90" y1="431.40" x2="272.90" y2="433.60" stroke="#333" stroke-width="1.0"/>
<text transform="translate(279.10,441.90) rotate(-45)" font-size="10" fill="#4D4D4D" text-anchor="end">RAR</text>
<text transform="translate(18.10,349.00) rotate(-90)" font-size="10.2" fill="#000" text-anchor="middle" font-weight="bold" textLength="59.50" lengthAdjust="spacingAndGlyphs" stroke="#000" stroke-width="0.22">PC1 loadings</text>
<text x="289.40" y="339.50" font-size="9.9" fill="#000" text-anchor="start" font-weight="bold" textLength="24.50" lengthAdjust="spacingAndGlyphs" stroke="#000" stroke-width="0.22">State</text>
<rect x="290.20" y="344.50" width="8.80" height="8.90" fill="#D7261E" stroke="#333" stroke-width="0.5"/>
<rect x="290.20" y="355.00" width="8.80" height="8.70" fill="#434C9E" stroke="#333" stroke-width="0.5"/>
<text x="303.20" y="351.70" font-size="9.6" fill="#4D4D4D" text-anchor="start" font-weight="normal" textLength="38.31" lengthAdjust="spacingAndGlyphs">p38 state</text>
<text x="303.20" y="362.30" font-size="9.6" fill="#4D4D4D" text-anchor="start" font-weight="normal" textLength="38.31" lengthAdjust="spacingAndGlyphs">p53 state</text>
<rect x="411.60" y="362.40" width="21.40" height="68.20" fill="#444D9F" stroke="#2E3158" stroke-width="0.7"/>
<rect x="447.70" y="415.00" width="21.40" height="15.60" fill="#444D9F" stroke="#2E3158" stroke-width="0.7"/>
<rect x="483.80" y="345.30" width="21.40" height="85.30" fill="#444D9F" stroke="#2E3158" stroke-width="0.7"/>
<rect x="519.90" y="299.10" width="21.40" height="131.50" fill="#444D9F" stroke="#2E3158" stroke-width="0.7"/>
<rect x="556.00" y="287.60" width="21.40" height="143.00" fill="#444D9F" stroke="#2E3158" stroke-width="0.7"/>
<rect x="592.10" y="275.50" width="21.40" height="155.10" fill="#444D9F" stroke="#2E3158" stroke-width="0.7"/>
<path d="M422.30,362.40 L423.44,365.91 L424.57,369.28 L425.71,372.52 L426.84,375.62 L427.98,378.60 L429.11,381.44 L430.25,384.15 L431.38,386.74 L432.52,389.20 L433.65,391.54 L434.79,393.76 L435.92,395.86 L437.06,397.84 L438.19,399.70 L439.33,401.44 L440.46,403.08 L441.60,404.60 L442.73,406.01 L443.87,407.31 L445.00,408.50 L446.14,409.58 L447.27,410.57 L448.41,411.45 L449.55,412.22 L450.68,412.90 L451.82,413.48 L452.95,413.97 L454.09,414.36 L455.22,414.65 L456.36,414.86 L457.49,414.97 L458.63,414.99 L459.76,414.79 L460.90,414.29 L462.03,413.53 L463.17,412.51 L464.30,411.26 L465.44,409.79 L466.57,408.10 L467.71,406.23 L468.84,404.18 L469.98,401.97 L471.11,399.62 L472.25,397.14 L473.38,394.54 L474.52,391.85 L475.66,389.08 L476.79,386.24 L477.93,383.35 L479.06,380.43 L480.20,377.48 L481.33,374.54 L482.47,371.60 L483.60,368.70 L484.74,365.83 L485.87,363.03 L487.01,360.30 L488.14,357.67 L489.28,355.13 L490.41,352.72 L491.55,350.45 L492.68,348.33 L493.82,346.38 L494.95,344.60 L496.09,342.84 L497.22,341.06 L498.36,339.28 L499.49,337.49 L500.63,335.69 L501.77,333.90 L502.90,332.11 L504.04,330.33 L505.17,328.56 L506.31,326.80 L507.44,325.07 L508.58,323.35 L509.71,321.66 L510.85,319.99 L511.98,318.36 L513.12,316.76 L514.25,315.20 L515.39,313.69 L516.52,312.21 L517.66,310.79 L518.79,309.42 L519.93,308.10 L521.06,306.85 L522.20,305.66 L523.33,304.53 L524.47,303.47 L525.61,302.48 L526.74,301.57 L527.88,300.75 L529.01,300.00 L530.15,299.34 L531.28,298.76 L532.42,298.21 L533.55,297.68 L534.69,297.19 L535.82,296.71 L536.96,296.26 L538.09,295.82 L539.23,295.41 L540.36,295.01 L541.50,294.63 L542.63,294.26 L543.77,293.91 L544.90,293.57 L546.04,293.24 L547.17,292.92 L548.31,292.61 L549.44,292.31 L550.58,292.01 L551.72,291.72 L552.85,291.43 L553.99,291.14 L555.12,290.85 L556.26,290.56 L557.39,290.27 L558.53,289.97 L559.66,289.67 L560.80,289.36 L561.93,289.04 L563.07,288.72 L564.20,288.38 L565.34,288.03 L566.47,287.67 L567.61,287.30 L568.74,286.93 L569.88,286.56 L571.01,286.19 L572.15,285.81 L573.28,285.44 L574.42,285.06 L575.55,284.69 L576.69,284.31 L577.83,283.94 L578.96,283.56 L580.10,283.18 L581.23,282.80 L582.37,282.42 L583.50,282.04 L584.64,281.66 L585.77,281.28 L586.91,280.90 L588.04,280.52 L589.18,280.14 L590.31,279.75 L591.45,279.37 L592.58,278.99 L593.72,278.60 L594.85,278.22 L595.99,277.83 L597.12,277.44 L598.26,277.06 L599.39,276.67 L600.53,276.28 L601.66,275.89 L602.80,275.50" fill="none" stroke="#D9251D" stroke-width="3.4" stroke-linecap="butt" stroke-linejoin="round"/>
<line x1="395.50" y1="267.30" x2="629.50" y2="267.30" stroke="#7A7A7A" stroke-width="1.0"/>
<line x1="629.50" y1="267.30" x2="629.50" y2="430.90" stroke="#808080" stroke-width="1.0"/>
<line x1="395.50" y1="430.90" x2="629.50" y2="430.90" stroke="#ABABAB" stroke-width="1.1"/>
<line x1="395.50" y1="266.80" x2="395.50" y2="431.40" stroke="#6A6A6A" stroke-width="1.0"/>
<line x1="393.10" y1="431.30" x2="395.50" y2="431.30" stroke="#444" stroke-width="1.3"/>
<text x="389.70" y="434.10" font-size="10.4" fill="#595959" text-anchor="end" font-weight="normal" textLength="5.21" lengthAdjust="spacingAndGlyphs">0</text>
<line x1="393.10" y1="398.50" x2="395.50" y2="398.50" stroke="#444" stroke-width="1.3"/>
<text x="389.70" y="401.30" font-size="10.4" fill="#595959" text-anchor="end" font-weight="normal" textLength="13.01" lengthAdjust="spacingAndGlyphs">0.2</text>
<line x1="393.10" y1="365.70" x2="395.50" y2="365.70" stroke="#444" stroke-width="1.3"/>
<text x="389.70" y="368.50" font-size="10.4" fill="#595959" text-anchor="end" font-weight="normal" textLength="13.01" lengthAdjust="spacingAndGlyphs">0.4</text>
<line x1="393.10" y1="332.90" x2="395.50" y2="332.90" stroke="#444" stroke-width="1.3"/>
<text x="389.70" y="335.70" font-size="10.4" fill="#595959" text-anchor="end" font-weight="normal" textLength="13.01" lengthAdjust="spacingAndGlyphs">0.6</text>
<line x1="393.10" y1="300.10" x2="395.50" y2="300.10" stroke="#444" stroke-width="1.3"/>
<text x="389.70" y="302.90" font-size="10.4" fill="#595959" text-anchor="end" font-weight="normal" textLength="13.01" lengthAdjust="spacingAndGlyphs">0.8</text>
<line x1="393.10" y1="267.30" x2="395.50" y2="267.30" stroke="#444" stroke-width="1.3"/>
<text x="389.70" y="270.10" font-size="10.4" fill="#595959" text-anchor="end" font-weight="normal" textLength="5.21" lengthAdjust="spacingAndGlyphs">1</text>
<line x1="422.30" y1="430.90" x2="422.30" y2="433.50" stroke="#444" stroke-width="1.2"/>
<text x="422.30" y="444.60" font-size="10.4" fill="#595959" text-anchor="middle" font-weight="normal" textLength="5.21" lengthAdjust="spacingAndGlyphs">0</text>
<line x1="458.40" y1="430.90" x2="458.40" y2="433.50" stroke="#444" stroke-width="1.2"/>
<text x="458.40" y="444.60" font-size="10.4" fill="#595959" text-anchor="middle" font-weight="normal" textLength="5.21" lengthAdjust="spacingAndGlyphs">1</text>
<line x1="494.50" y1="430.90" x2="494.50" y2="433.50" stroke="#444" stroke-width="1.2"/>
<text x="494.50" y="444.60" font-size="10.4" fill="#595959" text-anchor="middle" font-weight="normal" textLength="10.41" lengthAdjust="spacingAndGlyphs">24</text>
<line x1="530.60" y1="430.90" x2="530.60" y2="433.50" stroke="#444" stroke-width="1.2"/>
<text x="530.60" y="444.60" font-size="10.4" fill="#595959" text-anchor="middle" font-weight="normal" textLength="10.41" lengthAdjust="spacingAndGlyphs">36</text>
<line x1="566.70" y1="430.90" x2="566.70" y2="433.50" stroke="#444" stroke-width="1.2"/>
<text x="566.70" y="444.60" font-size="10.4" fill="#595959" text-anchor="middle" font-weight="normal" textLength="10.41" lengthAdjust="spacingAndGlyphs">48</text>
<line x1="602.80" y1="430.90" x2="602.80" y2="433.50" stroke="#444" stroke-width="1.2"/>
<text x="602.80" y="444.60" font-size="10.4" fill="#595959" text-anchor="middle" font-weight="normal" textLength="10.41" lengthAdjust="spacingAndGlyphs">60</text>
<text x="512.60" y="456.60" font-size="10.05" fill="#111" text-anchor="middle" font-weight="bold" stroke="#111" stroke-width="0.22">Time post drug treatment (h)</text>
<path d="M363.5,345.0 L366.2,345.4 C368.4,345.8 368.9,347.2 368.9,348.7 C368.9,350.3 368.3,351.4 366.2,351.5 L363.5,351.6 M363.7,348.4 L370.8,349.3" fill="none" stroke="#111" stroke-width="1.45" stroke-linecap="butt"/>
<text x="0.20" y="10.00" font-size="14" fill="#231F20" text-anchor="start" font-weight="bold" textLength="9.40" lengthAdjust="spacingAndGlyphs" stroke="#231F20" stroke-width="0.22">A</text>
<text x="349.80" y="10.00" font-size="14" fill="#231F20" text-anchor="start" font-weight="bold" textLength="9.40" lengthAdjust="spacingAndGlyphs" stroke="#231F20" stroke-width="0.22">B</text>
<text x="0.30" y="263.70" font-size="14" fill="#231F20" text-anchor="start" font-weight="bold" textLength="9.40" lengthAdjust="spacingAndGlyphs" stroke="#231F20" stroke-width="0.22">C</text>
<text x="349.50" y="263.70" font-size="14" fill="#231F20" text-anchor="start" font-weight="bold" textLength="9.40" lengthAdjust="spacingAndGlyphs" stroke="#231F20" stroke-width="0.22">D</text>
</svg>
</body></html>
